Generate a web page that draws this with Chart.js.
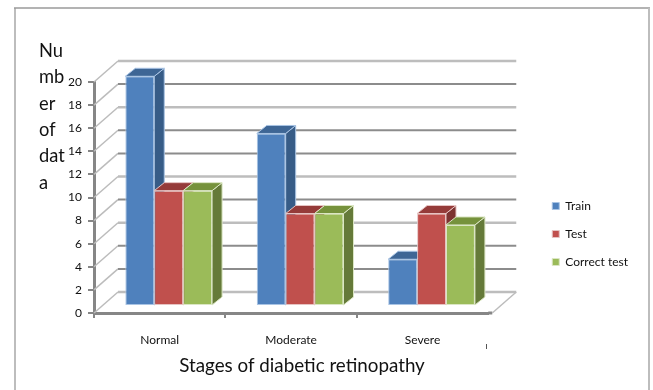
<!DOCTYPE html>
<html>
<head>
<meta charset="utf-8">
<style>body{margin:0;background:#fff}canvas{display:block}</style>
<script src="https://cdn.jsdelivr.net/npm/chart.js@4/dist/chart.umd.min.js"></script>
</head>
<body>
<canvas id="grafico" width="653" height="390"></canvas>
<script>
const stages = ["Normal", "Moderate", "Severe"];
const train = [20, 15, 4];
const test = [10, 8, 8];
const correctTest = [10, 8, 7];
const yTitle = ["Nu", "mb", "er", "of", "dat", "a"];
const xTitle = "Stages of diabetic retinopathy";

const font = "Lato";
const shades = [
  {front: "#4f81bd", side: "#375c87", top: "#3e6695", edge: "#a9c4e4"},
  {front: "#c0504d", side: "#7d3331", top: "#953b39", edge: "#e6c3c2"},
  {front: "#9bbb59", side: "#657a39", top: "#76923c", edge: "#dbe6c4"}
];
const lightLines = [0, 6, 10, 16, 20];

function line(ctx, x1, y1, x2, y2, color, width) {
  ctx.strokeStyle = color;
  ctx.lineWidth = width;
  ctx.beginPath();
  ctx.moveTo(x1, y1);
  ctx.lineTo(x2, y2);
  ctx.stroke();
}

function face(ctx, pts, fill, edge) {
  ctx.fillStyle = fill;
  ctx.strokeStyle = edge;
  ctx.lineWidth = 1;
  ctx.beginPath();
  pts.forEach((p, i) => i ? ctx.lineTo(p[0], p[1]) : ctx.moveTo(p[0], p[1]));
  ctx.closePath();
  ctx.fill();
  ctx.stroke();
}

const fake3d = {
  id: "fake3d",
  afterLayout(chart) {
    // legend sits a bit off the middle of the canvas
    chart.legend.top -= 2;
    chart.legend.bottom -= 2;
  },
  beforeDraw(chart) {
    const ctx = chart.ctx;
    line(ctx, 15, 8, 15, 390, "#bdbdbd", 2);
    line(ctx, 14, 8, 650, 8, "#9a9a9a", 1.5);
    line(ctx, 649, 8, 649, 390, "#bdbdbd", 2);
  },
  beforeDatasetsDraw(chart) {
    const ctx = chart.ctx;
    const y = chart.scales.y;
    const a = chart.chartArea;
    const backX = 24, backY = -21;
    // floor runs a little past the last category
    const floorEnd = a.right + 4;
    line(ctx, a.right, a.bottom, floorEnd, a.bottom, "#868686", 3);
    for (const t of y.ticks) {
      const py = y.getPixelForValue(t.value);
      line(ctx, a.left, py, a.left + backX, py + backY, "#bcbcbc", 1.5);
      const light = lightLines.includes(t.value);
      line(ctx, a.left + backX, py + backY, floorEnd + backX, py + backY, light ? "#bdbdbd" : "#8c8c8c", light ? 2.5 : 2);
    }
    line(ctx, floorEnd, a.bottom, floorEnd + backX, a.bottom + backY, "#bcbcbc", 1.5);
    // sides and tops go first, the fronts of the next bars cover them
    ctx.save();
    ctx.translate(9, -8);
    shades.forEach((s, i) => {
      for (const bar of chart.getDatasetMeta(i).data) {
        const l = bar.x - bar.width / 2, r = bar.x + bar.width / 2;
        face(ctx, [[r, bar.y], [r + 10, bar.y - 8], [r + 10, bar.base - 8], [r, bar.base]], s.side, s.edge);
        face(ctx, [[l, bar.y], [l + 10, bar.y - 8], [r + 10, bar.y - 8], [r, bar.y]], s.top, s.edge);
      }
    });
    ctx.restore();
  },
  beforeDatasetDraw(chart) {
    chart.ctx.save();
    chart.ctx.translate(9, -8);
  },
  afterDatasetDraw(chart) {
    chart.ctx.restore();
  },
  afterDraw(chart) {
    const ctx = chart.ctx;
    ctx.fillStyle = "#111";
    ctx.font = "18.3px " + font;
    ctx.textAlign = "left";
    ctx.textBaseline = "alphabetic";
    yTitle.forEach((t, i) => ctx.fillText(t, 39, 57 + i * 26.3));
    ctx.font = "18.8px " + font;
    ctx.textAlign = "center";
    ctx.fillText(xTitle, 302, 372);
    line(ctx, 486.5, 344, 486.5, 349, "#555", 1);
  }
};

function dataset(label, data, i) {
  return {
    label: label,
    data: data,
    yAxisID: "yBar",
    clip: false,
    backgroundColor: shades[i].front,
    borderColor: shades[i].edge,
    borderWidth: 1,
    borderSkipped: false,
    categoryPercentage: 0.66,
    barPercentage: 1
  };
}

new Chart("grafico", {
  type: "bar",
  data: {
    labels: stages,
    datasets: [dataset("Train", train, 0), dataset("Test", test, 1), dataset("Correct test", correctTest, 2)]
  },
  plugins: [fake3d],
  options: {
    responsive: false,
    animation: false,
    layout: {padding: {top: 82, right: 15, bottom: 0, left: 0}},
    plugins: {
      tooltip: {enabled: false},
      legend: {
        position: "right",
        labels: {
          boxWidth: 7,
          boxHeight: 7,
          padding: 16,
          color: "#111",
          font: {family: font, size: 12}
        }
      }
    },
    scales: {
      x: {
        grid: {
          drawOnChartArea: false,
          // the closing line past the last category has no tick of its own
          color: c => c.tick ? "#868686" : "transparent",
          lineWidth: 2,
          tickLength: 5,
          offset: true
        },
        border: {color: "#868686", width: 3},
        ticks: {color: "#111", font: {family: font, size: 12}, padding: 15, maxRotation: 0},
        afterFit: s => { s.height = 77; }
      },
      y: {
        min: 0,
        max: 20,
        grid: {drawOnChartArea: false, color: "#868686", lineWidth: 2, tickLength: 6},
        border: {color: "#868686", width: 3},
        ticks: {stepSize: 2, color: "#111", font: {family: font, size: 12}, padding: 6},
        afterFit: s => { s.width = 94; }
      },
      yBar: {
        position: "right",
        min: 0,
        max: 20.2,
        grid: {display: false},
        border: {display: false},
        ticks: {display: false},
        afterFit: s => { s.width = 48; }
      }
    }
  }
});
</script>
</body>
</html>
